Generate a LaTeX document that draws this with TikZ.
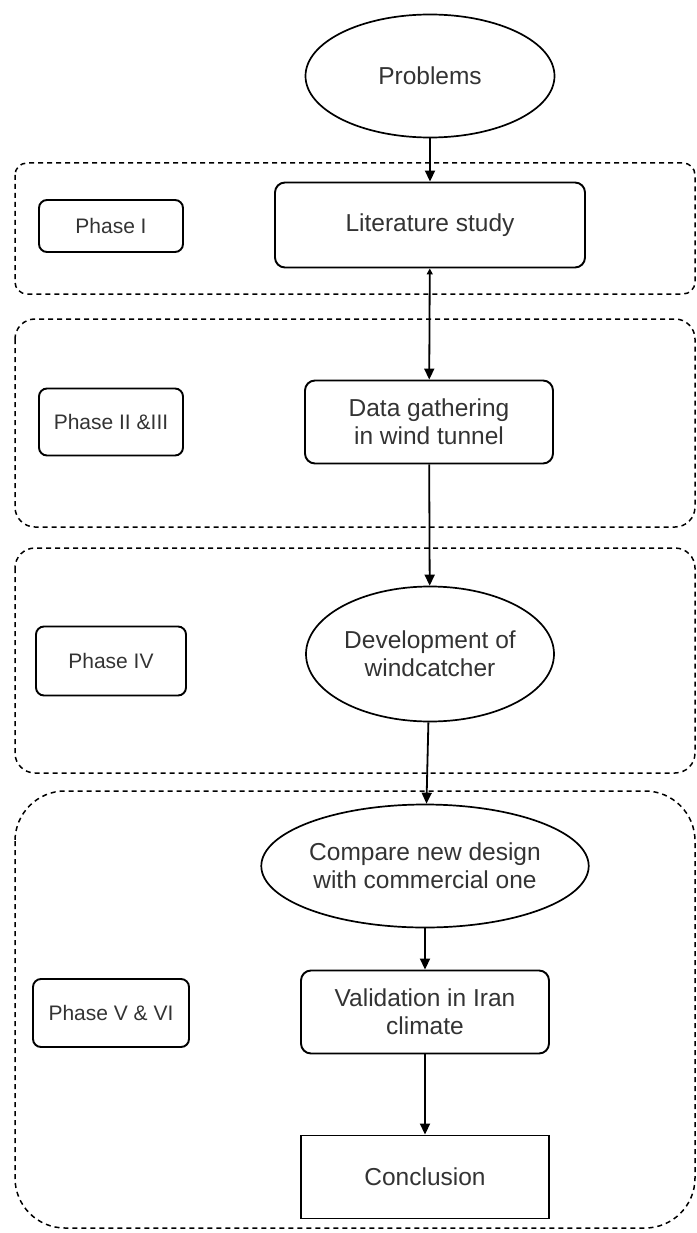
\documentclass[tikz,border=0pt]{standalone}
\usepackage{fontspec}
\setmainfont{Liberation Sans}
\usetikzlibrary{shapes.geometric,arrows.meta,positioning}

\begin{document}
\begin{tikzpicture}[x=1pt, y=-1pt,
    txt/.style={text=black!80, font=\fontsize{24.5}{28}\selectfont, align=center, inner sep=0pt},
    stepbox/.style={txt, draw, line width=1.9pt, rounded corners=10pt, minimum width=248pt, minimum height=83pt},
    oval/.style={txt, draw, ellipse, line width=1.7pt, minimum width=249pt, minimum height=123pt},
    phasebox/.style={draw, line width=1.9pt, rounded corners=8pt, text=black!80, font=\fontsize{21}{25}\selectfont, inner sep=0pt, minimum width=144pt, minimum height=52pt},
    groupbox/.style={draw, dash pattern=on 5pt off 4pt, line width=1.5pt},
    flow/.style={-{Triangle[length=11pt,width=10pt]}, line width=1.8pt}]
    \useasboundingbox (0,0) rectangle (696,1233);

    % Phase groups
    \draw[groupbox, rounded corners=12pt] (15,163) rectangle (695,294);
    \draw[groupbox, rounded corners=20pt] (15,319) rectangle (695,527);
    \draw[groupbox, rounded corners=20pt] (15,548) rectangle (695,773);
    \draw[groupbox, rounded corners=50pt] (15,791) rectangle (695,1228);

    % Flow
    \node[oval] (problems) at (430,76) {Problems};
    \node[stepbox, minimum width=310pt, minimum height=85pt] (lit) at (430,225) {Literature study};
    \node[stepbox] (data) at (429,422) {Data gathering\\in wind tunnel};
    \node[oval, minimum width=248pt, minimum height=135pt] (devel) at (430,654) {Development of\\windcatcher};
    \node[oval, minimum width=285pt] (compare) at (425,866) {Compare new design\\with commercial one};
    \node[stepbox] (valid) at (425,1012) {Validation in Iran\\climate};
    \node[stepbox, sharp corners] (concl) at (425,1177) {Conclusion};

    % Phase labels
    \node[phasebox] (ph1) at (111,226) {Phase I};
    \node[phasebox, minimum height=67pt] (ph2) at (111,422) {Phase II \&III};
    \node[phasebox, minimum width=150pt, minimum height=69pt] (ph4) at (111,661) {Phase IV};
    \node[phasebox, minimum width=156pt, minimum height=68pt] (ph5) at (111,1013) {Phase V \& VI};

    % Arrows
    \draw[flow] (problems) -- (lit);
    \draw[flow, {Triangle[length=6pt,width=6pt]}-{Triangle[length=11pt,width=10pt]}] (lit) -- (data);
    \draw[flow] (data) -- (devel);
    \draw[flow] (devel) -- (compare);
    \draw[flow] (compare) -- (valid);
    \draw[flow] (valid) -- (concl);
\end{tikzpicture}
\end{document}
